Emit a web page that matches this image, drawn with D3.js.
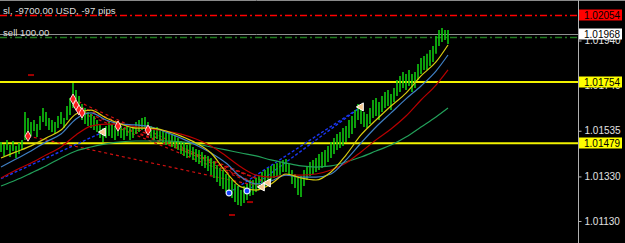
<!DOCTYPE html>
<html><head><meta charset="utf-8">
<script src="https://cdn.jsdelivr.net/npm/d3@7"></script>
<style>html,body{margin:0;padding:0;background:#000;}svg{display:block;}</style>
</head><body>
<svg id="c" width="625" height="243"></svg>
<script>
// ---- data (prices) ----
const barHigh = [1.01485,1.01476,1.01494,1.01471,1.01489,1.01467,1.01480,1.01494,1.01619,1.01592,
1.01574,1.01583,1.01565,1.01601,1.01637,1.01619,1.01592,1.01583,1.01574,1.01601,
1.01619,1.01592,1.01646,1.01682,1.01749,1.01718,1.01691,1.01655,1.01637,1.01619,
1.01610,1.01601,1.01583,1.01565,1.01547,1.01556,1.01574,1.01565,1.01556,1.01565,
1.01556,1.01547,1.01556,1.01547,1.01556,1.01574,1.01583,1.01592,1.01597,1.01574,
1.01556,1.01547,1.01552,1.01543,1.01534,1.01525,1.01529,1.01516,1.01511,1.01502,
1.01489,1.01480,1.01471,1.01476,1.01462,1.01453,1.01449,1.01440,1.01426,1.01422,
1.01413,1.01399,1.01381,1.01368,1.01359,1.01341,1.01332,1.01314,1.01296,1.01287,
1.01269,1.01287,1.01296,1.01314,1.01314,1.01323,1.01332,1.01350,1.01359,1.01368,
1.01377,1.01386,1.01390,1.01395,1.01404,1.01408,1.01386,1.01359,1.01341,1.01323,
1.01332,1.01359,1.01377,1.01395,1.01404,1.01413,1.01431,1.01440,1.01449,1.01467,
1.01485,1.01502,1.01520,1.01529,1.01547,1.01556,1.01583,1.01601,1.01628,1.01655,
1.01637,1.01619,1.01610,1.01637,1.01673,1.01682,1.01664,1.01691,1.01709,1.01718,
1.01700,1.01727,1.01763,1.01781,1.01799,1.01790,1.01808,1.01790,1.01799,1.01835,
1.01862,1.01871,1.01880,1.01897,1.01915,1.01960,1.01987,1.01996,1.01987,1.01987];
const barLow = [1.01440,1.01422,1.01449,1.01417,1.01444,1.01413,1.01431,1.01449,1.01494,1.01529,
1.01511,1.01534,1.01507,1.01538,1.01574,1.01556,1.01538,1.01529,1.01520,1.01547,
1.01565,1.01547,1.01583,1.01606,1.01637,1.01628,1.01610,1.01583,1.01565,1.01556,
1.01547,1.01538,1.01529,1.01502,1.01485,1.01502,1.01511,1.01502,1.01494,1.01511,
1.01502,1.01494,1.01511,1.01494,1.01502,1.01520,1.01529,1.01538,1.01547,1.01520,
1.01502,1.01494,1.01498,1.01489,1.01480,1.01471,1.01476,1.01462,1.01458,1.01449,
1.01431,1.01422,1.01413,1.01417,1.01404,1.01395,1.01386,1.01377,1.01368,1.01354,
1.01336,1.01323,1.01305,1.01287,1.01274,1.01260,1.01251,1.01233,1.01215,1.01202,
1.01197,1.01211,1.01224,1.01242,1.01247,1.01260,1.01269,1.01278,1.01287,1.01305,
1.01314,1.01323,1.01332,1.01336,1.01350,1.01350,1.01332,1.01296,1.01278,1.01247,
1.01238,1.01287,1.01314,1.01332,1.01341,1.01350,1.01359,1.01368,1.01377,1.01395,
1.01413,1.01431,1.01449,1.01458,1.01467,1.01485,1.01502,1.01520,1.01547,1.01583,
1.01565,1.01552,1.01547,1.01565,1.01592,1.01601,1.01583,1.01619,1.01637,1.01646,
1.01628,1.01664,1.01691,1.01709,1.01727,1.01718,1.01736,1.01709,1.01727,1.01763,
1.01790,1.01808,1.01808,1.01826,1.01844,1.01880,1.01915,1.01933,1.01942,1.01924];

// moving averages sampled at these bar indices
const maIndex = [0,5,10,15,20,25,30,35,40,45,50,55,60,65,70,75,80,85,90,95,100,105,110,115,120,125,130,135,140,145,149];
const maYellow = [1.01413,1.01440,1.01467,1.01502,1.01538,1.01610,1.01628,1.01592,1.01565,1.01547,1.01547,1.01534,1.01511,1.01480,1.01435,1.01350,1.01283,1.01269,1.01296,1.01341,1.01323,1.01314,1.01350,1.01426,1.01516,1.01583,1.01646,1.01704,1.01781,1.01844,1.01920];
const maBlue   = [1.01372,1.01408,1.01444,1.01485,1.01520,1.01588,1.01615,1.01583,1.01565,1.01561,1.01552,1.01529,1.01502,1.01471,1.01435,1.01390,1.01327,1.01296,1.01310,1.01336,1.01327,1.01327,1.01341,1.01404,1.01480,1.01552,1.01615,1.01678,1.01736,1.01803,1.01875];
const maRed    = [1.01323,1.01359,1.01390,1.01426,1.01462,1.01516,1.01556,1.01565,1.01565,1.01552,1.01543,1.01534,1.01520,1.01498,1.01467,1.01422,1.01372,1.01336,1.01327,1.01336,1.01336,1.01341,1.01359,1.01390,1.01440,1.01494,1.01543,1.01601,1.01673,1.01740,1.01808];
const maGreen  = [1.01287,1.01314,1.01345,1.01377,1.01413,1.01444,1.01462,1.01476,1.01485,1.01489,1.01489,1.01489,1.01485,1.01476,1.01462,1.01449,1.01435,1.01422,1.01404,1.01390,1.01377,1.01372,1.01377,1.01395,1.01417,1.01444,1.01471,1.01507,1.01552,1.01597,1.01637];

// trades
const sellIndex = [9,24,25,26,27,39,49];
const sellPrice = [1.01511,1.01677,1.01650,1.01628,1.01615,1.01556,1.01538];
const sellCloseIndex = [87,87,89,89,87,89,87];
const sellClosePrice = [1.01283,1.01283,1.01301,1.01301,1.01283,1.01301,1.01283];
const buyIndex = [0,76,82];
const buyPrice = [1.01320,1.01256,1.01265];
const buyCloseIndex = [34,120,120];
const buyClosePrice = [1.01529,1.01642,1.01642];
const buyMarkerIndex = [76,82];
const buyMarkerPrice = [1.01256,1.01265];
const closeMarkerIndex = [34,87,89,120];
const closeMarkerPrice = [1.01529,1.01283,1.01301,1.01642];
const stopMarkIndex = [10,77,83];
const stopMarkPrice = [1.01785,1.01157,1.01215];

// levels
const supportLevels = [1.01754,1.01479];
const stopLoss = 1.02054;
const bidPrice = 1.01968;
const openPrice = 1.01957;
const tickValues = [1.01130,1.01330,1.01535,1.01740,1.01940];
const slText = "sl, -9700.00 USD, -97 pips";
const orderText = "sell 100.00";

// ---- drawing ----
const W = 625, H = 243, plotR = 578;
const svg = d3.select("#c");
svg.append("rect").attr("width",W).attr("height",H).attr("fill","#000");
const x = d3.scaleLinear().domain([0,149]).range([1,448]);
const y = d3.scaleLinear().domain([1.01130,1.01940]).range([221,40.5]);
const font = "'Liberation Sans', Arial, sans-serif";

const plot = svg.append("g");
plot.append("clipPath").attr("id","clip").append("rect").attr("width",plotR).attr("height",H);
const g = plot.append("g").attr("clip-path","url(#clip)");

// support lines
g.selectAll(".sup").data(supportLevels).join("line")
  .attr("x1",0).attr("x2",plotR).attr("y1",d=>y(d)).attr("y2",d=>y(d))
  .attr("stroke","#f2f200").attr("stroke-width",2);

// stop loss / bid / open lines
const py = p => Math.round(y(p)) + 0.5;
g.append("line").attr("x1",0).attr("x2",plotR).attr("y1",py(stopLoss)).attr("y2",py(stopLoss))
  .attr("stroke","#ff0000").attr("stroke-width",1.6).attr("stroke-dasharray","7,3,2,3");
g.append("line").attr("x1",0).attr("x2",plotR).attr("y1",py(bidPrice)).attr("y2",py(bidPrice))
  .attr("stroke","#909090").attr("stroke-width",1);
g.append("line").attr("x1",0).attr("x2",plotR).attr("y1",py(openPrice)).attr("y2",py(openPrice))
  .attr("stroke","#1f7a1f").attr("stroke-width",1.5).attr("stroke-dasharray","7,3,2,3");

// trade lines
const buyLines = buyIndex.map((d,i)=>[[d,buyPrice[i]],[buyCloseIndex[i],buyClosePrice[i]]]);
const sellLines = sellIndex.map((d,i)=>[[d,sellPrice[i]],[sellCloseIndex[i],sellClosePrice[i]]]);
const seg = d3.line().x(d=>x(d[0])).y(d=>y(d[1]));
g.selectAll(".bl").data(buyLines).join("path").attr("d",seg).attr("fill","none")
  .attr("stroke","#1a36f0").attr("stroke-width",1.4).attr("stroke-dasharray","3,2");
g.selectAll(".sl").data(sellLines).join("path").attr("d",seg).attr("fill","none")
  .attr("stroke","#d01010").attr("stroke-width",1.2).attr("stroke-dasharray","3,3");

// bars
const bars = barHigh.map((h,i)=>({i,h,l:barLow[i]}));
g.selectAll(".bar").data(bars).join("line")
  .attr("x1",d=>x(d.i)).attr("x2",d=>x(d.i)).attr("y1",d=>y(d.h)).attr("y2",d=>y(d.l))
  .attr("stroke","#10c810").attr("stroke-width",1.6);

// moving averages
const maLine = d3.line().x(d=>x(d[0])).y(d=>y(d[1])).curve(d3.curveMonotoneX);
[[maGreen,"#22a05a"],[maRed,"#b80000"],[maBlue,"#3f7fc4"],[maYellow,"#d8cc10"]].forEach(([arr,c])=>{
  g.append("path").datum(maIndex.map((d,i)=>[d,arr[i]])).attr("d",maLine)
    .attr("fill","none").attr("stroke",c).attr("stroke-width",1.2);
});

// stop marks
g.selectAll(".sm").data(stopMarkIndex.map((d,i)=>[d,stopMarkPrice[i]])).join("line")
  .attr("x1",d=>x(d[0])-3).attr("x2",d=>x(d[0])+3).attr("y1",d=>y(d[1])).attr("y2",d=>y(d[1]))
  .attr("stroke","#a00000").attr("stroke-width",2);

// markers
const diamond = d3.symbol().type(d3.symbolDiamond).size(30);
g.selectAll(".sell").data(sellIndex.map((d,i)=>[d,sellPrice[i]])).join("path")
  .attr("d",diamond).attr("transform",d=>`translate(${x(d[0])},${y(d[1])})`)
  .attr("fill","#ff2020").attr("stroke","#ffd0d0").attr("stroke-width",1);
const circ = d3.symbol().type(d3.symbolCircle).size(26);
g.selectAll(".buy").data(buyMarkerIndex.map((d,i)=>[d,buyMarkerPrice[i]])).join("path")
  .attr("d",circ).attr("transform",d=>`translate(${x(d[0])},${y(d[1])})`)
  .attr("fill","#1840ff").attr("stroke","#e0e8ff").attr("stroke-width",1.2);
const tri = d3.symbol().type(d3.symbolTriangle).size(28);
g.selectAll(".cls").data(closeMarkerIndex.map((d,i)=>[d,closeMarkerPrice[i]])).join("path")
  .attr("d",tri).attr("transform",d=>`translate(${x(d[0])},${y(d[1])}) rotate(-90)`)
  .attr("fill","#f7c890").attr("stroke","#ffffff").attr("stroke-width",1);

// top texts
svg.append("text").attr("x",3).attr("y",13.5).text(slText)
  .attr("fill","#dcdcdc").attr("font-family",font).attr("font-size","9.6px");
svg.append("text").attr("x",3).attr("y",35.5).text(orderText)
  .attr("fill","#dcdcdc").attr("font-family",font).attr("font-size","9.6px");

// frame
svg.append("line").attr("x1",0).attr("x2",W).attr("y1",0.5).attr("y2",0.5).attr("stroke","#8a8a8a");
svg.append("line").attr("x1",plotR+0.5).attr("x2",plotR+0.5).attr("y1",0).attr("y2",H).attr("stroke","#b0b0b0");

// axis
const axis = d3.axisRight(y).tickValues(tickValues).tickSize(3).tickPadding(3).tickFormat(d3.format(".5f"));
const ax = svg.append("g").attr("transform",`translate(${plotR+0.5},0)`).call(axis);
ax.select(".domain").remove();
ax.selectAll("line").attr("stroke","#b0b0b0");
ax.selectAll("text").attr("fill","#e0e0e0").attr("font-family",font).attr("font-size","10px");

// price labels
const priceLabels = [
  {p:stopLoss,bg:"#ff0000"},{p:bidPrice,bg:"#ffffff"},
  {p:supportLevels[0],bg:"#ffff00"},{p:supportLevels[1],bg:"#ffff00"}];
const pl = svg.selectAll(".pl").data(priceLabels).join("g")
  .attr("transform",d=>`translate(${plotR+1},${Math.round(y(d.p))})`);
pl.append("rect").attr("x",0).attr("y",-5.5).attr("width",43).attr("height",11).attr("fill",d=>d.bg);
pl.append("text").attr("x",5).attr("y",0).attr("dy","0.35em").text(d=>d3.format(".5f")(d.p))
  .attr("fill","#000").attr("font-family",font).attr("font-size","10px");
</script>
</body></html>
